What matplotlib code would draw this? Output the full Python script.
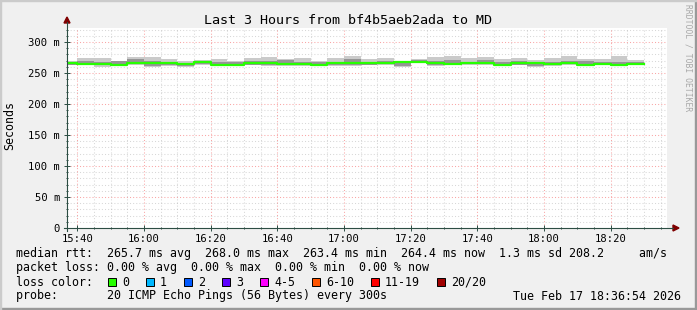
import numpy as np
import matplotlib
matplotlib.use("Agg")
import matplotlib.pyplot as plt
from matplotlib.patches import Rectangle, Polygon
from matplotlib.lines import Line2D

# -----------------------
# Data (minutes after 15:00, window 15:36:54 - 18:36:54)
# -----------------------
t_start = 36.9
t_end = 216.9
step_ends = list(range(40, 211, 5))   # end of each 300s step, 15:40 .. 18:30

median = [266.0, 264.5, 264.5, 263.4, 266.6, 265.6, 265.6, 264.5, 267.7, 263.4,
          263.4, 265.6, 265.6, 264.5, 264.5, 263.4, 265.6, 266.6, 265.6, 266.6,
          267.7, 268.0, 265.6, 264.5, 265.6, 266.6, 263.4, 265.6, 265.6, 264.5,
          266.6, 263.4, 264.5, 263.4, 264.4]
smoke_lo = [262.4, 262.4, 260.2, 262.0, 262.4, 259.1, 261.3, 260.2, 263.4, 261.3,
            262.4, 262.4, 261.3, 261.3, 261.3, 261.3, 261.3, 261.3, 262.4, 263.4,
            260.2, 265.6, 261.3, 262.4, 263.4, 262.4, 261.3, 262.4, 259.1, 261.3,
            262.4, 261.3, 262.4, 261.3, 263.4]
smoke_hi = [269.3, 274.2, 274.2, 269.9, 276.3, 276.3, 272.0, 268.8, 271.0, 272.0,
            269.9, 274.2, 276.3, 272.0, 274.2, 269.9, 274.2, 277.4, 272.0, 274.2,
            269.9, 272.0, 275.3, 277.4, 274.2, 276.3, 272.0, 274.2, 271.0, 274.2,
            277.4, 273.1, 273.1, 277.4, 271.0]
inner_lo = [263.5, 263.0, 262.5, 262.5, 264.0, 262.0, 263.0, 262.0, 265.0, 262.0,
            262.5, 263.5, 263.0, 263.0, 263.0, 262.0, 263.5, 263.0, 263.5, 264.5,
            261.0, 266.0, 263.0, 263.0, 264.0, 264.0, 262.0, 263.5, 261.0, 262.5,
            264.0, 262.0, 263.5, 262.0, 264.0]
inner_hi = [268.5, 270.0, 268.0, 270.0, 272.0, 269.0, 268.5, 266.5, 269.5, 268.0,
            268.5, 269.0, 270.0, 270.5, 268.0, 268.5, 268.5, 273.0, 268.5, 269.0,
            268.5, 271.0, 269.0, 271.0, 268.0, 271.5, 267.5, 269.0, 268.5, 268.0,
            270.0, 269.0, 267.5, 267.0, 267.0]

x_ticks = [40, 60, 80, 100, 120, 140, 160, 180, 200]
x_labels = ["15:40", "16:00", "16:20", "16:40", "17:00", "17:20", "17:40", "18:00", "18:20"]
y_ticks = [0, 50, 100, 150, 200, 250, 300]
y_labels = ["0", "50 m", "100 m", "150 m", "200 m", "250 m", "300 m"]

title = "Last 3 Hours from bf4b5aeb2ada to MD"
legend_lines = [
    "median rtt:  265.7 ms avg  268.0 ms max  263.4 ms min  264.4 ms now  1.3 ms sd 208.2     am/s",
    "packet loss: 0.00 % avg  0.00 % max  0.00 % min  0.00 % now",
    "loss color:",
    "probe:       20 ICMP Echo Pings (56 Bytes) every 300s",
]
loss_labels = ["0", "1", "2", "3", "4-5", "6-10", "11-19", "20/20"]
loss_colors = ["#26ff00", "#00b8ff", "#0059ff", "#5e00ff", "#ff00ff", "#ff5500", "#ff0000", "#a00000"]
date_str = "Tue Feb 17 18:36:54 2026"

# -----------------------
# Figure
# -----------------------
W, H = 697, 310
MONO = "DejaVu Sans Mono"

def fx(x):
    return x / W

def fy(y):
    return 1 - y / H

fig = plt.figure(figsize=(W / 100, H / 100), dpi=100)
fig.patch.set_facecolor("#f0f0f0")

ax = fig.add_axes([fx(67), fy(228), 600 / W, 200 / H])
ax.set_facecolor("white")
ax.set_xlim(t_start, t_end)
ax.set_ylim(0, 322.6)
for s in ax.spines.values():
    s.set_visible(False)

# grid
dots = (0, (1, 2))
for v in range(10, 330, 10):
    if v % 50 == 0:
        ax.axhline(v, color="#f00000", alpha=0.35, lw=0.75, ls=dots, zorder=1)
    else:
        ax.axhline(v, color="#8f8f8f", alpha=0.35, lw=0.75, ls=dots, zorder=1)
for t in range(40, 217, 5):
    if t % 20 == 0:
        ax.axvline(t, color="#f00000", alpha=0.35, lw=0.75, ls=dots, zorder=1)
    else:
        ax.axvline(t, color="#8f8f8f", alpha=0.35, lw=0.75, ls=dots, zorder=1)

# smoke + median
edges = np.array([t_start] + step_ends, dtype=float)

def stepy(v):
    return np.append(v, v[-1])

ax.fill_between(edges, stepy(smoke_lo), stepy(smoke_hi), step="post",
                color="#cacaca", lw=0, zorder=2)
ax.fill_between(edges, stepy(inner_lo), stepy(inner_hi), step="post",
                color="#959595", lw=0, zorder=3)
ax.step(edges, stepy(median), where="post", color="#26ff00", lw=1.6, zorder=4)

# ticks
ax.set_xticks(x_ticks)
ax.set_xticklabels(x_labels, family=MONO, fontsize=7.6)
ax.set_xticks(range(40, 217, 5), minor=True)
ax.set_yticks(y_ticks)
ax.set_yticklabels(y_labels, family=MONO, fontsize=7.6)
ax.set_yticks(range(10, 330, 10), minor=True)
ax.tick_params(which="major", direction="inout", length=4, width=0.7,
               color="#2c4d43", pad=2)
ax.tick_params(which="minor", direction="inout", length=2, width=0.7,
               color="#2c4d43")
ax.tick_params(axis="y", which="major", pad=3)

# axes + arrows
axis_col = "#2c4d43"
fig.add_artist(Line2D([fx(64), fx(673)], [fy(228), fy(228)], color=axis_col, lw=0.8))
fig.add_artist(Line2D([fx(67), fx(67)], [fy(231), fy(22)], color=axis_col, lw=0.8))
fig.add_artist(Polygon([(fx(673), fy(225)), (fx(679), fy(228)), (fx(673), fy(231))],
                       closed=True, transform=fig.transFigure, color="#7f0000"))
fig.add_artist(Polygon([(fx(64), fy(23)), (fx(67), fy(17)), (fx(70), fy(23))],
                       closed=True, transform=fig.transFigure, color="#7f0000"))

# texts
fig.text(fx(348), fy(20), title, ha="center", va="center", family=MONO, fontsize=9.6)
fig.text(fx(10), fy(125), "Seconds", rotation=90, ha="center", va="center",
         family=MONO, fontsize=8.4)
fig.text(fx(688), fy(4), "RRDTOOL / TOBI OETIKER", rotation=270, ha="center",
         va="top", family=MONO, fontsize=5.8, color="#a8a8a8")

line_y = [254, 268, 282, 296]
for txt, yy in zip(legend_lines, line_y):
    fig.text(fx(16), fy(yy), txt, ha="left", va="center", family=MONO, fontsize=8.4)
fig.text(fx(681), fy(296), date_str, ha="right", va="center", family=MONO, fontsize=8.4)

bx = 108
for lab, col in zip(loss_labels, loss_colors):
    fig.add_artist(Rectangle((fx(bx), fy(286)), 8 / W, 8 / H, transform=fig.transFigure,
                             facecolor=col, edgecolor="black", lw=0.7))
    fig.text(fx(bx + 14), fy(282), lab, ha="left", va="center", family=MONO, fontsize=8.4)
    bx += 31 + 7 * len(lab)

# frame shading
fig.add_artist(Rectangle((0, 0), 1, 2 / H, transform=fig.transFigure, color="#999999"))
fig.add_artist(Rectangle((1 - 2 / W, 0), 2 / W, 1, transform=fig.transFigure, color="#999999"))
fig.add_artist(Rectangle((0, 1 - 1 / H), 1, 1 / H, transform=fig.transFigure, color="#cbcbcb"))
fig.add_artist(Rectangle((0, 0), 1 / W, 1, transform=fig.transFigure, color="#cbcbcb"))

fig.savefig("out.png", dpi=100, facecolor=fig.get_facecolor())
